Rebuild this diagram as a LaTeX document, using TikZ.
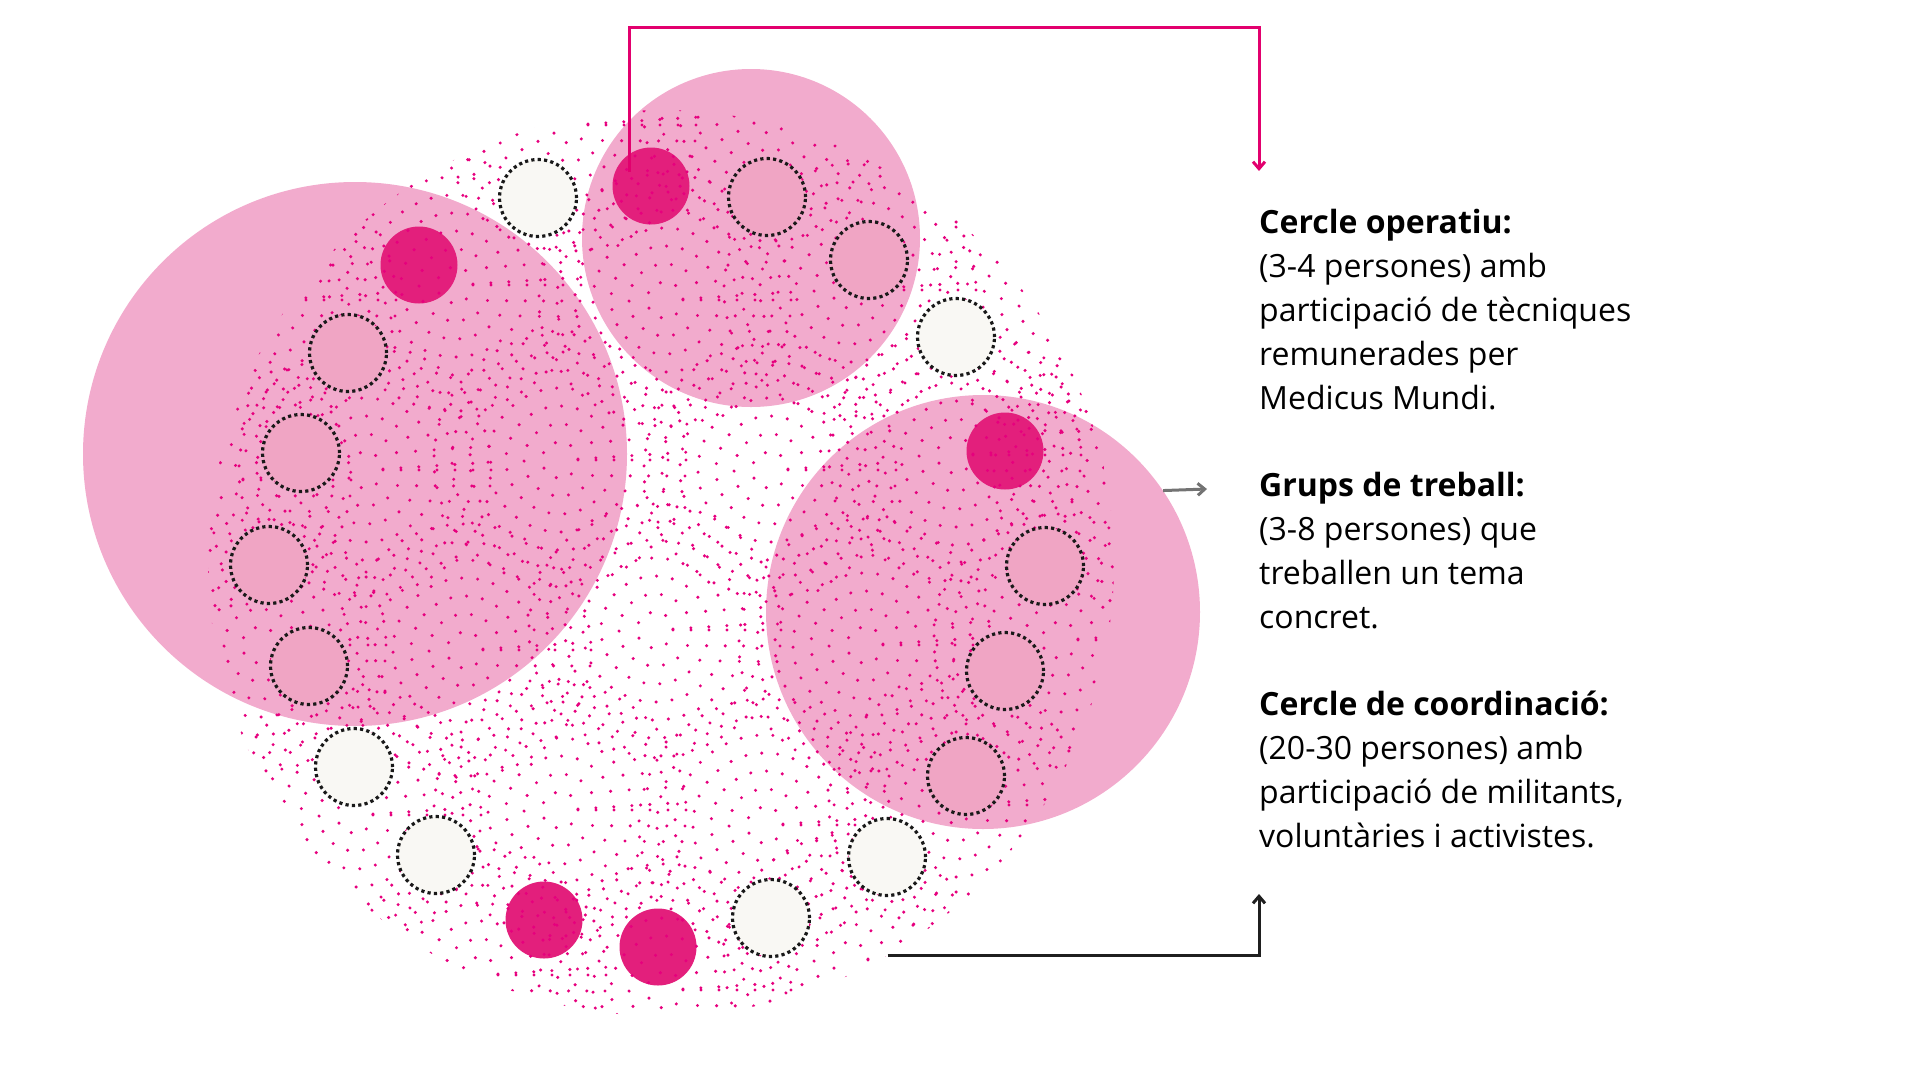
\documentclass[tikz,border=0pt]{standalone}
\usepackage{fontspec}
\setmainfont{Open Sans}
\usetikzlibrary{arrows.meta}
\definecolor{rosa}{HTML}{F2ABCD}
\definecolor{rosaint}{HTML}{F0A5C4}
\definecolor{fucsia}{HTML}{E31F7C}
\definecolor{punt}{HTML}{E6007E}
\definecolor{linia}{HTML}{E2006E}
\definecolor{crema}{HTML}{F9F8F4}
\begin{document}
\begin{tikzpicture}[x=1pt,y=-1pt,
  gran/.style={circle,fill=rosa,inner sep=0pt},
  petit/.style={circle,minimum size=77pt,inner sep=0pt},
  vora/.style={petit,draw=black!90,line width=3.2pt,dash pattern=on 3.2pt off 3.2pt},
  punts/.style={punt,line width=3.4pt,line cap=round,dash pattern=on 0pt off 16pt},
  fletxa/.style={line width=3pt,-{Straight Barb[length=7pt,width=12pt]}},
  nota/.style={anchor=base west,align=left,inner sep=0pt,font=\fontsize{32}{43.8}\selectfont}]
\useasboundingbox (0,0) rectangle (1920,1080);
% grans cercles
\node[gran,minimum size=544pt] (esq) at (355,454) {};
\node[gran,minimum size=338pt] (dalt) at (751,238) {};
\node[gran,minimum size=434pt] (dreta) at (983,612) {};
% persones de referencia
\foreach \n/\x/\y in {m1/651/186,m2/419/265,m3/1005/451,m4/544/920,m5/658/947}
  \node[petit,fill=fucsia] (\n) at (\x,\y) {};
% nuvol de punts
\node[circle,minimum size=906pt,inner sep=0pt] (nuvol) at (661,563) {};
\begin{scope}
\clip (661,563) circle (453);
\foreach \cx/\cy in {570/125,770/115,
    270/300,455/285,665/300,850/290,1055/305,
    225/480,365/470,560/460,770/470,955/455,1120/475,
    260/645,465/650,655/630,865/645,1060/640,
    355/815,560/810,765/825,955/805,
    480/975,665/990,850/960}
  {\foreach \r in {18,36,...,126} \draw[punts] (\cx,\cy) circle (\r);}
\end{scope}
% cercles puntejats
\foreach \n/\x/\y in {b1/538/198,b2/956/337,b3/354/767,b4/436/855,b5/887/857,b6/771/918}
  \node[vora,fill=crema] (\n) at (\x,\y) {};
\foreach \n/\x/\y in {p1/767/197,p2/869/260,p3/348/353,p4/301/453,p5/269/565,p6/309/666,p7/1045/566,p8/1005/671,p9/966/776}
  \node[vora,fill=rosaint] (\n) at (\x,\y) {};
% textos (ancorats a l'ultima linia)
\node[nota] (oper) at (1259,409) {\textbf{Cercle operatiu:}\\(3-4 persones) amb\\participació de tècniques\\remunerades per\\Medicus Mundi.};
\node[nota] (grups) at (1259,628) {\textbf{Grups de treball:}\\(3-8 persones) que\\treballen un tema\\concret.};
\node[nota] (coord) at (1259,847) {\textbf{Cercle de coordinació:}\\(20-30 persones) amb\\participació de militants,\\voluntàries i activistes.};
% fletxes
\coordinate (m1p) at ([xshift=-22pt,yshift=14pt]m1.center);
\coordinate (sostre) at (0,27);
\coordinate (opertip) at (1259,171);
\coordinate (grupstip) at (1207,489);
\coordinate (coordtip) at (1259,894);
\draw[fletxa,linia] (m1p) -- (m1p |- sostre) -| (opertip);
\draw[fletxa,black!55] (dreta.34.5) -- (grupstip);
\draw[fletxa,black!88] (nuvol.-60) -| (coordtip);
\end{tikzpicture}
\end{document}
